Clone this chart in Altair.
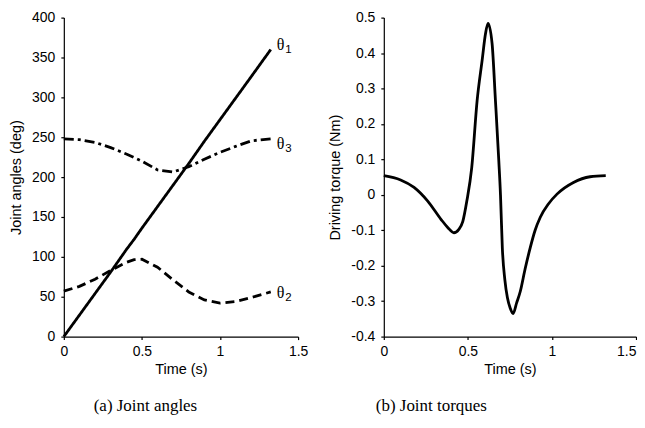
import altair as alt
import pandas as pd

# ---- data ----
angle_t = [0.0, 0.1, 0.2, 0.3, 0.4, 0.45, 0.5, 0.6, 0.7, 0.8, 0.9, 1.0, 1.1, 1.2, 1.325]
theta1 = [0, 27, 54, 81, 109, 122, 136, 163, 190, 217, 245, 272, 299, 326, 360]
theta2 = [57, 63, 72, 83, 93, 96.5, 97, 87, 71, 56, 46, 42, 44, 49, 56]
theta3 = [248, 247, 243.5, 237, 229, 224.5, 220, 209, 206.5, 213, 222.5, 231, 238.5, 245.5, 248]

torque_t = [0.0, 0.1, 0.18, 0.26, 0.34, 0.38, 0.417, 0.445, 0.47, 0.494, 0.523,
            0.555, 0.585, 0.605, 0.62, 0.644, 0.664, 0.684, 0.694, 0.705, 0.72,
            0.735, 0.752, 0.769, 0.79, 0.812, 0.84, 0.871, 0.9, 0.93, 0.98,
            1.03, 1.128, 1.227, 1.32]
torque = [0.054, 0.042, 0.021, -0.017, -0.069, -0.092, -0.107, -0.098, -0.075, -0.017, 0.077,
          0.266, 0.38, 0.455, 0.484, 0.427, 0.266, 0.096, 0.0, -0.15, -0.24,
          -0.29, -0.32, -0.335, -0.305, -0.272, -0.21, -0.149, -0.1, -0.064, -0.025,
          0.002, 0.035, 0.051, 0.054]

joints = ["θ1", "θ2", "θ3"]
subs = ["1", "2", "3"]
angle_ticks = [0, 50, 100, 150, 200, 250, 300, 350, 400]
torque_ticks = [-0.4, -0.3, -0.2, -0.1, 0, 0.1, 0.2, 0.3, 0.4, 0.5]
time_ticks = [0, 0.5, 1, 1.5]

n = len(angle_t)
angles = pd.DataFrame({
    "t": angle_t * 3,
    "angle": theta1 + theta2 + theta3,
    "joint": [joints[0]] * n + [joints[1]] * n + [joints[2]] * n,
})
ends = pd.DataFrame({
    "t": [angle_t[-1]] * 3,
    "angle": [theta1[-1], theta2[-1], theta3[-1]],
    "joint": joints,
    "sub": subs,
})
torq = pd.DataFrame({"t": torque_t, "tau": torque})

FONT = "Liberation Sans"
xscale = alt.Scale(domain=[0, 1.5], nice=False, zero=False)


def time_axis(last_right=False):
    kw = dict(values=time_ticks, format="~g", title="Time (s)", labelFlush=False,
              labelOverlap=False, tickSize=3, titlePadding=4, labelPadding=5)
    if last_right:
        kw["labelAlign"] = {"condition": {"test": "datum.value >= 1.5", "value": "right"},
                            "value": "center"}
    return alt.Axis(**kw)


# ---- left panel: joint angles ----
x_left = alt.X("t:Q", scale=xscale, axis=time_axis())
y_left = alt.Y("angle:Q", scale=alt.Scale(domain=[0, 400], nice=False),
               axis=alt.Axis(values=angle_ticks, title="Joint angles (deg)", labelOverlap=False,
                             tickSize=3, labelPadding=6, titlePadding=8))

lines = alt.Chart(angles).mark_line(color="black", strokeWidth=2.8).encode(
    x=x_left,
    y=y_left,
    strokeDash=alt.StrokeDash("joint:N", scale=alt.Scale(domain=joints,
                              range=[[1, 0], [9, 5], [10, 4, 3, 4]]), legend=None),
    detail="joint:N",
)


def end_label(idx, dy):
    d = ends.iloc[[idx]]
    th = alt.Chart(d).mark_text(text="θ", font="Liberation Serif", fontSize=16,
                                align="left", baseline="middle", dx=6, dy=dy,
                                color="black").encode(x=x_left, y=y_left)
    sb = alt.Chart(d).mark_text(font="Liberation Sans", fontSize=11.5,
                                align="left", baseline="middle", dx=14.5, dy=dy + 5,
                                color="black").encode(x=x_left, y=y_left, text="sub:N")
    return th + sb


left = alt.layer(lines, end_label(0, -5), end_label(1, 1), end_label(2, 5)).properties(
    width=235, height=320,
    title=alt.TitleParams("(a)  Joint angles", orient="bottom", anchor="start", frame="group",
                          dx=30, offset=22, font="Liberation Serif", fontSize=17,
                          fontWeight="normal", color="black"),
)

# ---- right panel: driving torque ----
right = alt.Chart(torq).mark_line(color="black", strokeWidth=2.8, interpolate="monotone").encode(
    x=alt.X("t:Q", scale=xscale, axis=time_axis(last_right=True)),
    y=alt.Y("tau:Q", scale=alt.Scale(domain=[-0.4, 0.5], nice=False),
            axis=alt.Axis(values=torque_ticks, title="Driving torque (Nm)", tickSize=3,
                          labelPadding=6, titlePadding=8, labelOverlap=False,
                          labelExpr="replace(format(datum.value, '.1~f'), '\u2212', '-')")),
).properties(
    width=253, height=320,
    title=alt.TitleParams("(b) Joint torques", orient="bottom", anchor="start", frame="group",
                          dx=-8, offset=22, font="Liberation Serif", fontSize=17,
                          fontWeight="normal", color="black"),
)

chart = alt.hconcat(left, right, spacing=19).properties(
    padding={"left": 0, "top": 2, "right": 0, "bottom": 0}
).configure_view(stroke=None).configure_axis(
    labelFont=FONT, titleFont=FONT, labelFontSize=14, titleFontSize=14.5,
    titleFontWeight="normal", labelColor="black", titleColor="black",
    domainColor="black", tickColor="black", grid=False, domainWidth=1.2, tickWidth=1.2,
)

chart.save("out.html", embed_options={"renderer": "svg", "actions": False})
